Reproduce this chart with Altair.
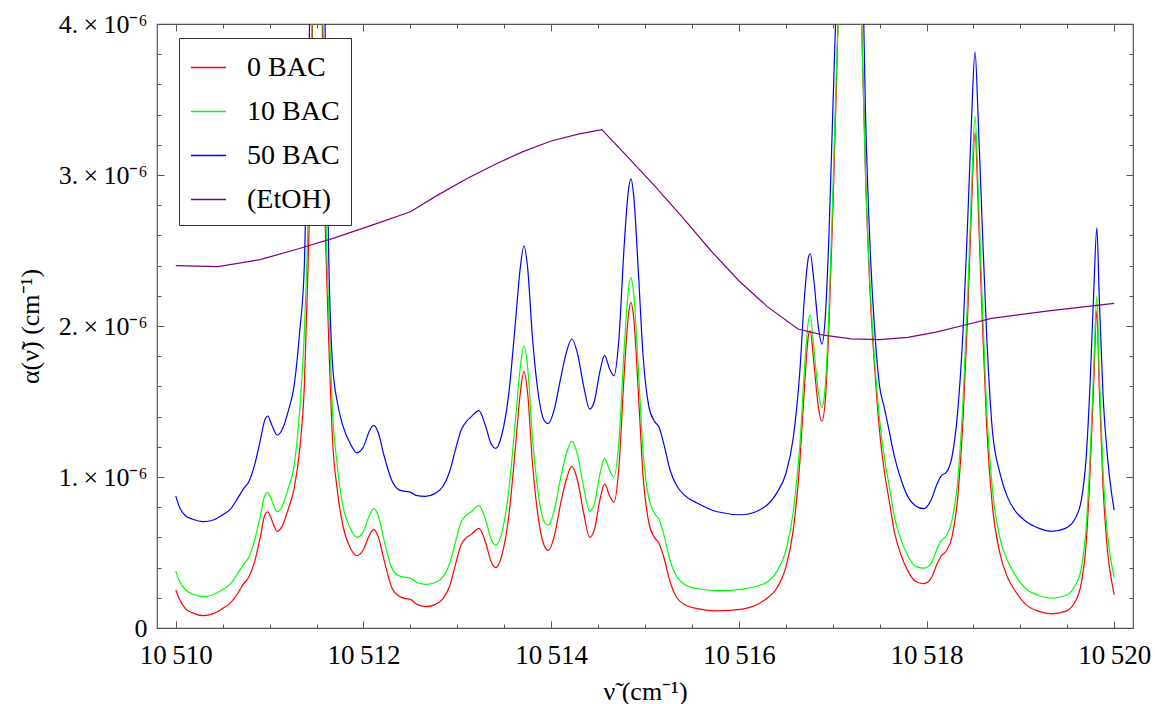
import altair as alt
import pandas as pd

# ---- data (alpha values in units of 1e-6 cm^-1) ----
series_names = ["0 BAC", "10 BAC", "50 BAC", "(EtOH)"]
series_colors = ["#ff0000", "#00ff00", "#0000ff", "#800080"]

nu_grid = [10510.00, 10510.04, 10510.10, 10510.18, 10510.29, 10510.40, 10510.50, 10510.58, 10510.66,
           10510.72, 10510.78, 10510.84, 10510.90, 10510.95, 10510.98, 10511.02, 10511.08, 10511.13,
           10511.20, 10511.26, 10511.32, 10511.37, 10511.41, 10511.45, 10511.51, 10511.57, 10511.60,
           10511.63, 10511.67, 10511.72, 10511.78, 10511.86, 10511.93, 10512.00, 10512.06, 10512.11,
           10512.16, 10512.22, 10512.30, 10512.38, 10512.45, 10512.50, 10512.56, 10512.66, 10512.76,
           10512.85, 10512.92, 10512.98, 10513.04, 10513.10, 10513.15, 10513.23, 10513.30, 10513.36,
           10513.41, 10513.47, 10513.55, 10513.62, 10513.67, 10513.71, 10513.75, 10513.80, 10513.87,
           10513.93, 10513.97, 10514.03, 10514.10, 10514.16, 10514.22, 10514.28, 10514.35, 10514.41,
           10514.46, 10514.52, 10514.57, 10514.62, 10514.67, 10514.72, 10514.78, 10514.82, 10514.85,
           10514.88, 10514.93, 10514.98, 10515.04, 10515.10, 10515.15, 10515.20, 10515.27, 10515.34,
           10515.42, 10515.56, 10515.77, 10516.035, 10516.27, 10516.41, 10516.50, 10516.58, 10516.65,
           10516.70, 10516.74, 10516.76, 10516.80, 10516.85, 10516.885, 10516.92, 10516.96, 10517.00,
           10517.04, 10517.08, 10517.19, 10517.30, 10517.35, 10517.40, 10517.45, 10517.50, 10517.55,
           10517.60, 10517.66, 10517.73, 10517.80, 10517.88, 10517.97, 10518.05, 10518.11, 10518.16,
           10518.21, 10518.27, 10518.33, 10518.39, 10518.44, 10518.48, 10518.517, 10518.55, 10518.59,
           10518.64, 10518.70, 10518.78, 10518.86, 10518.94, 10519.05, 10519.20, 10519.33, 10519.48,
           10519.58, 10519.65, 10519.70, 10519.74, 10519.78, 10519.815, 10519.84, 10519.88, 10519.93,
           10519.97, 10520.00]

a_red = [0.252, 0.19, 0.13, 0.10, 0.082, 0.095, 0.13, 0.165, 0.23,
         0.29, 0.34, 0.44, 0.60, 0.75, 0.77, 0.72, 0.64, 0.67,
         0.79, 0.92, 1.18, 1.60, 2.40, 3.60, 8.0, 3.30, 2.50,
         1.90, 1.25, 0.92, 0.68, 0.53, 0.48, 0.52, 0.61, 0.653,
         0.60, 0.45, 0.27, 0.21, 0.195, 0.19, 0.16, 0.141, 0.155,
         0.196, 0.28, 0.42, 0.55, 0.60, 0.62, 0.66, 0.57, 0.44,
         0.40, 0.47, 0.75, 1.20, 1.55, 1.70, 1.55, 1.10, 0.70,
         0.54, 0.514, 0.60, 0.82, 0.98, 1.07, 0.98, 0.75, 0.60,
         0.65, 0.85, 0.954, 0.88, 0.833, 1.05, 1.70, 2.05, 2.157,
         2.05, 1.55, 1.00, 0.70, 0.60, 0.56, 0.47, 0.30, 0.20,
         0.155, 0.128, 0.113, 0.125, 0.184, 0.27, 0.40, 0.65, 1.10,
         1.60, 1.93, 1.97, 1.75, 1.45, 1.37, 1.50, 2.00, 2.73,
         3.60, 4.60, 8.0, 4.20, 3.00, 2.20, 1.70, 1.30, 1.04,
         0.85, 0.63, 0.48, 0.38, 0.31, 0.294, 0.33, 0.42, 0.48,
         0.51, 0.60, 0.85, 1.40, 2.10, 2.80, 3.28, 2.80, 2.10,
         1.35, 0.82, 0.50, 0.34, 0.25, 0.16, 0.11, 0.094, 0.11,
         0.17, 0.30, 0.55, 1.00, 1.60, 2.10, 1.60, 0.95, 0.50,
         0.32, 0.22]

a_green = [0.377, 0.31, 0.255, 0.225, 0.207, 0.22, 0.255, 0.29, 0.36,
           0.42, 0.47, 0.58, 0.74, 0.88, 0.896, 0.85, 0.77, 0.80,
           0.93, 1.07, 1.44, 1.96, 2.73, 4.0, 9.0, 4.0, 2.73,
           2.10, 1.44, 1.08, 0.81, 0.66, 0.60, 0.64, 0.74, 0.79,
           0.74, 0.58, 0.40, 0.345, 0.335, 0.33, 0.305, 0.289, 0.30,
           0.34, 0.43, 0.57, 0.70, 0.75, 0.77, 0.81, 0.72, 0.59,
           0.55, 0.62, 0.92, 1.38, 1.72, 1.868, 1.72, 1.27, 0.86,
           0.70, 0.68, 0.77, 0.99, 1.15, 1.238, 1.15, 0.92, 0.773,
           0.82, 1.02, 1.123, 1.05, 1.00, 1.22, 1.87, 2.22, 2.32,
           2.21, 1.71, 1.16, 0.86, 0.76, 0.72, 0.62, 0.44, 0.34,
           0.29, 0.26, 0.248, 0.258, 0.294, 0.38, 0.51, 0.77, 1.21,
           1.72, 2.03, 2.07, 1.85, 1.55, 1.46, 1.60, 2.10, 2.85,
           3.70, 4.40, 9.0, 4.20, 3.00, 2.25, 1.75, 1.38, 1.13,
           0.95, 0.73, 0.58, 0.48, 0.41, 0.396, 0.43, 0.52, 0.58,
           0.61, 0.71, 0.96, 1.52, 2.22, 2.92, 3.39, 2.92, 2.22,
           1.45, 0.93, 0.60, 0.45, 0.355, 0.265, 0.215, 0.198, 0.215,
           0.275, 0.40, 0.66, 1.10, 1.70, 2.20, 1.70, 1.05, 0.61,
           0.43, 0.336]

a_blue = [0.874, 0.80, 0.745, 0.72, 0.704, 0.715, 0.75, 0.785, 0.86,
          0.92, 0.97, 1.08, 1.24, 1.38, 1.404, 1.35, 1.278, 1.31,
          1.44, 1.60, 1.96, 2.40, 3.40, 5.00, 10.0, 5.00, 3.60,
          2.45, 1.75, 1.50, 1.34, 1.22, 1.16, 1.20, 1.30, 1.342,
          1.29, 1.14, 0.98, 0.915, 0.905, 0.90, 0.878, 0.872, 0.89,
          0.94, 1.04, 1.18, 1.31, 1.37, 1.40, 1.44, 1.34, 1.22,
          1.19, 1.27, 1.56, 2.03, 2.38, 2.53, 2.38, 1.93, 1.52,
          1.37, 1.354, 1.44, 1.65, 1.82, 1.914, 1.82, 1.59, 1.45,
          1.50, 1.70, 1.806, 1.72, 1.67, 1.90, 2.55, 2.88, 2.975,
          2.86, 2.35, 1.80, 1.47, 1.37, 1.33, 1.22, 1.04, 0.94,
          0.88, 0.826, 0.77, 0.75, 0.80, 0.90, 1.02, 1.26, 1.70,
          2.20, 2.45, 2.48, 2.30, 1.98, 1.88, 2.05, 2.60, 3.40,
          4.20, 5.00, 10.0, 5.00, 3.40, 2.50, 1.95, 1.60, 1.46,
          1.31, 1.13, 0.98, 0.87, 0.81, 0.79, 0.85, 0.95, 1.01,
          1.03, 1.13, 1.42, 1.98, 2.72, 3.38, 3.816, 3.38, 2.72,
          1.95, 1.32, 1.03, 0.87, 0.78, 0.71, 0.66, 0.64, 0.66,
          0.72, 0.85, 1.12, 1.58, 2.20, 2.65, 2.20, 1.55, 1.12,
          0.90, 0.78]

nu_etoh = [10510.00, 10510.45, 10510.90, 10511.30, 10511.70, 10512.10, 10512.50, 10512.80, 10513.10,
           10513.40, 10513.70, 10514.00, 10514.30, 10514.54, 10514.80, 10515.10, 10515.40, 10515.70,
           10516.00, 10516.30, 10516.63, 10516.90, 10517.20, 10517.50, 10517.80, 10518.10, 10518.40,
           10518.69, 10519.30, 10520.00]
a_etoh = [2.40, 2.393, 2.44, 2.51, 2.585, 2.67, 2.757, 2.87, 2.975,
          3.07, 3.155, 3.225, 3.272, 3.30, 3.13, 2.93, 2.72, 2.50,
          2.30, 2.13, 1.98, 1.94, 1.915, 1.91, 1.925, 1.96, 2.005,
          2.05, 2.10, 2.15]

x_major = [10510, 10512, 10514, 10516, 10518, 10520]
x_minor = [10510.5, 10511, 10511.5, 10512.5, 10513, 10513.5, 10514.5, 10515, 10515.5,
           10516.5, 10517, 10517.5, 10518.5, 10519, 10519.5]
y_major = [0, 1, 2, 3, 4]
y_minor = [0.2, 0.4, 0.6, 0.8, 1.2, 1.4, 1.6, 1.8, 2.2, 2.4, 2.6, 2.8, 3.2, 3.4, 3.6, 3.8]

# ---- build tables ----
rows = []
for name, ys in [("0 BAC", a_red), ("10 BAC", a_green), ("50 BAC", a_blue)]:
    for a, b in zip(nu_grid, ys):
        rows.append({"nu": a, "alpha": b, "series": name})
df_peaks = pd.DataFrame(rows)
df_etoh = pd.DataFrame({"nu": nu_etoh, "alpha": a_etoh, "series": "(EtOH)"})

FONT = "Liberation Serif"
FRAME = "#555555"
W, H = 976, 604

xscale = alt.Scale(domain=[10509.8, 10520.2], nice=False, zero=False)
yscale = alt.Scale(domain=[0, 4], nice=False, zero=True)
cscale = alt.Scale(domain=series_names, range=series_colors)

legend = alt.Legend(
    title=None, orient="none", legendX=22, legendY=14,
    symbolType="stroke", symbolSize=1225, symbolStrokeWidth=1.3,
    labelFont=FONT, labelFontSize=28, labelColor="black", labelOffset=20,
    rowPadding=11, padding=11, strokeColor="#333333", fillColor="white",
)

x_label_axis = alt.Axis(
    values=x_major, labelExpr="replace(format(datum.value, ',d'), ',', '\u2009')",
    ticks=False, domain=False, grid=False, labelFont=FONT, labelFontSize=27,
    labelColor="black", labelPadding=14, labelFlush=False, labelOverlap=False,
    title="\u03bd\u0303 (cm\u207b\u00b9)", titleFont=FONT, titleFontSize=26,
    titleFontWeight="normal", titleColor="black", titleY=63, titleBaseline="middle",
)
y_label_axis = alt.Axis(
    values=y_major,
    labelExpr="datum.value == 0 ? '0' : format(datum.value, 'd') + '.\u2009\u00d7\u200910\u207b\u2076'",
    ticks=False, domain=False, grid=False, labelFont=FONT, labelFontSize=26,
    labelColor="black", labelPadding=10, labelFlush=False, labelOverlap=False,
    title="\u03b1(\u03bd\u0303) (cm\u207b\u00b9)", titleFont=FONT, titleFontSize=26,
    titleFontWeight="normal", titleColor="black", titleX=-127, titleY=H / 2,
    titleAngle=-90, titleAlign="center", titleBaseline="middle",
)

peaks = alt.Chart(df_peaks).mark_line(
    clip=True, strokeWidth=1.2, interpolate="monotone"
).encode(
    x=alt.X("nu:Q", scale=xscale, axis=x_label_axis),
    y=alt.Y("alpha:Q", scale=yscale, axis=y_label_axis),
    color=alt.Color("series:N", scale=cscale, legend=legend),
)

etoh = alt.Chart(df_etoh).mark_line(clip=True, strokeWidth=1.2).encode(
    x=alt.X("nu:Q", scale=xscale, axis=None),
    y=alt.Y("alpha:Q", scale=yscale, axis=None),
    color=alt.Color("series:N", scale=cscale, legend=legend),
)


def tick_layer(xvals, yvals, xorient, yorient, size):
    xa = alt.Axis(orient=xorient, values=xvals, labels=False, domain=False, grid=False,
                  ticks=True, tickSize=size, offset=-size, tickColor=FRAME, tickWidth=1,
                  title=None)
    ya = alt.Axis(orient=yorient, values=yvals, labels=False, domain=False, grid=False,
                  ticks=True, tickSize=size, offset=-size, tickColor=FRAME, tickWidth=1,
                  title=None)
    return alt.Chart(df_etoh).mark_point(opacity=0, size=1).encode(
        x=alt.X("nu:Q", scale=xscale, axis=xa),
        y=alt.Y("alpha:Q", scale=yscale, axis=ya),
    )


chart = alt.layer(
    peaks, etoh,
    tick_layer(x_major, y_major, "bottom", "left", 7),
    tick_layer(x_minor, y_minor, "bottom", "left", 4),
    tick_layer(x_major, y_major, "top", "right", 7),
    tick_layer(x_minor, y_minor, "top", "right", 4),
).resolve_axis(
    x="independent", y="independent"
).properties(
    width=W, height=H,
    autosize=alt.AutoSizeParams(type="none"),
    padding={"left": 157, "top": 24, "right": 22, "bottom": 76},
    background="white",
).configure_view(
    stroke=FRAME, strokeWidth=1.2
)

chart.save("out.html", embed_options={"renderer": "svg", "actions": False})
